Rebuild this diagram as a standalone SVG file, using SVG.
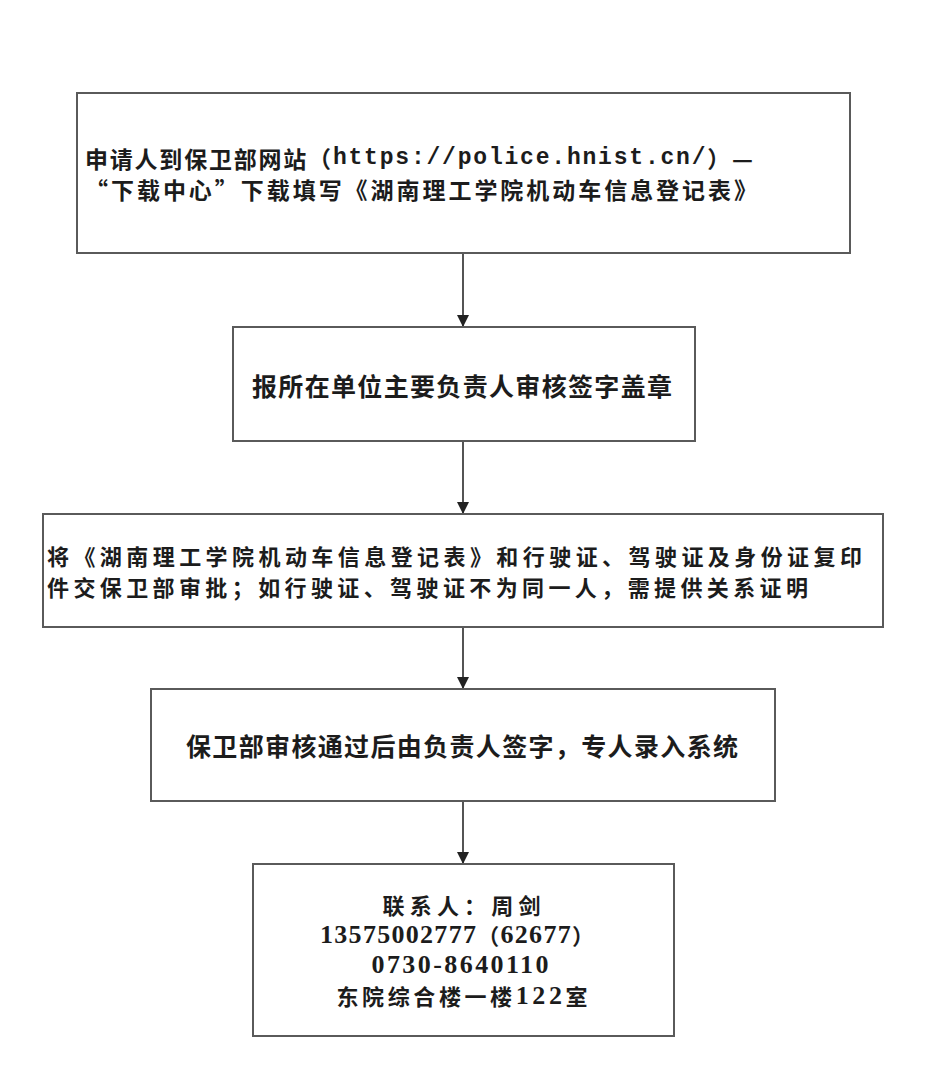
<svg xmlns="http://www.w3.org/2000/svg" width="941" height="1078" viewBox="0 0 941 1078">
<defs>
<marker id="arrow" markerWidth="13" markerHeight="12" refX="12" refY="6" orient="auto" markerUnits="userSpaceOnUse"><path d="M0,0 L12,6 L0,12 Z" fill="#222"/></marker>
</defs>
<style>
.box{fill:#fff;stroke:#5a5a5a;stroke-width:2}
.t{font-family:"Noto Sans CJK SC","Noto Sans CJK JP",sans-serif;font-weight:700;fill:#1c1c1c;dominant-baseline:central}
.s21{font-size:23px}
.s3{font-size:22px}
.s23{font-size:25px}
.s22{font-size:22px}
.mono{font-family:"Liberation Mono","Noto Sans CJK SC",monospace;font-size:23px}
.serif{font-family:"Liberation Serif","Noto Sans CJK SC",serif;font-size:26px}
.conn{stroke:#2a2a2a;stroke-width:1.6;fill:none;marker-end:url(#arrow)}
</style>
<rect width="941" height="1078" fill="#fff"/>
<g id="connectors">
<line class="conn" x1="463" y1="254" x2="463" y2="327"/>
<line class="conn" x1="463" y1="441" x2="463" y2="514"/>
<line class="conn" x1="463" y1="628" x2="463" y2="689"/>
<line class="conn" x1="463" y1="802" x2="463" y2="864"/>
</g>
<g id="node1">
<rect class="box" x="77" y="93" width="773" height="160"/>
<text class="t s21"><tspan x="85" y="158" textLength="668">申请人到保卫部网站（<tspan class="mono">https://police.hnist.cn/</tspan>）—</tspan><tspan x="85" y="189" textLength="672">“下载中心”下载填写《湖南理工学院机动车信息登记表》</tspan></text>
</g>
<g id="node2">
<rect class="box" x="233" y="327" width="462" height="114"/>
<text class="t s23" x="462" y="385" text-anchor="middle" textLength="420">报所在单位主要负责人审核签字盖章</text>
</g>
<g id="node3">
<rect class="box" x="43" y="514" width="840" height="113"/>
<text class="t s3"><tspan x="47" y="554.5" textLength="815">将《湖南理工学院机动车信息登记表》和行驶证、驾驶证及身份证复印</tspan><tspan x="47" y="585.5" textLength="761">件交保卫部审批；如行驶证、驾驶证不为同一人，需提供关系证明</tspan></text>
</g>
<g id="node4">
<rect class="box" x="151" y="689" width="624" height="112"/>
<text class="t s23" x="462" y="745" text-anchor="middle" textLength="552">保卫部审核通过后由负责人签字，专人录入系统</text>
</g>
<g id="node5">
<rect class="box" x="253" y="864" width="421" height="172"/>
<text class="t s22" text-anchor="middle"><tspan x="461.5" y="904" textLength="158">联系人：周剑</tspan><tspan x="457" y="934" textLength="274"><tspan class="serif">13575002777</tspan>（<tspan class="serif">62677</tspan>）</tspan><tspan x="460" y="964" textLength="177" class="serif">0730-8640110</tspan><tspan x="462" y="995" textLength="251">东院综合楼一楼<tspan class="serif">122</tspan>室</tspan></text>
</g>
</svg>
